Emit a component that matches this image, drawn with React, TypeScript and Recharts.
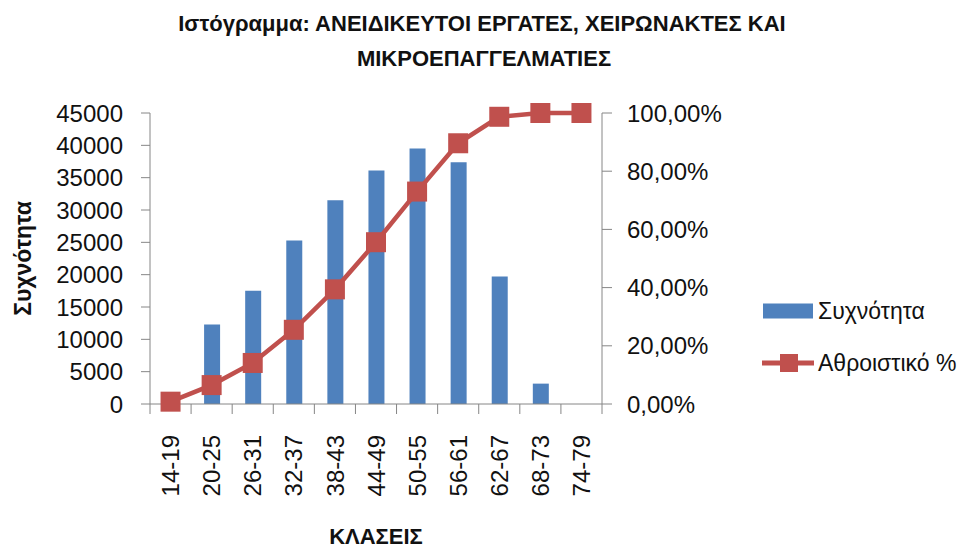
import React from 'react';
import { ComposedChart, Bar, Line, XAxis, YAxis, Legend } from 'recharts';

const CLASSES = ['14-19', '20-25', '26-31', '32-37', '38-43', '44-49', '50-55', '56-61', '62-67', '68-73', '74-79'];
const FREQUENCY = [1800, 12300, 17500, 25300, 31500, 36100, 39500, 37400, 19700, 3150, 0];
const CUMULATIVE = [0.008, 0.065, 0.141, 0.255, 0.394, 0.556, 0.73, 0.896, 0.987, 1, 1];
const LEFT_TICKS = [0, 5000, 10000, 15000, 20000, 25000, 30000, 35000, 40000, 45000];
const RIGHT_TICKS = [0, 0.2, 0.4, 0.6, 0.8, 1];
const SERIES_NAMES = ['Συχνότητα', 'Αθροιστικό %'];
const TITLE_LINES = ['Ιστόγραμμα: ΑΝΕΙΔΙΚΕΥΤΟΙ ΕΡΓΑΤΕΣ, ΧΕΙΡΩΝΑΚΤΕΣ ΚΑΙ', 'ΜΙΚΡΟΕΠΑΓΓΕΛΜΑΤΙΕΣ'];

const data = CLASSES.map((klasi, i) => ({ klasi, freq: FREQUENCY[i], cum: CUMULATIVE[i] }));

const FONT = '"Liberation Sans", Arial, sans-serif';
const BLUE = '#4F81BD';
const RED = '#C0504D';
const AXIS = '#868686';
const TEXT = '#111';
const LABEL_GAP = 31;
const TICK_LEN = 10;

const pct = (v: number) => (v * 100).toFixed(2).replace('.', ',') + '%';

// Excel puts the category tick marks between the classes, so draw them at the band edges
const ClassTick = (props: any) => {
  const { x, y, payload, width, visibleTicksCount, index } = props;
  const half = width / visibleTicksCount / 2;
  const y0 = y - LABEL_GAP;
  return (
    <g>
      <line x1={x - half} y1={y0} x2={x - half} y2={y0 + TICK_LEN} stroke={AXIS} />
      {index === visibleTicksCount - 1 && (
        <line x1={x + half} y1={y0} x2={x + half} y2={y0 + TICK_LEN} stroke={AXIS} />
      )}
      <text x={x} y={y} transform={`rotate(-90, ${x}, ${y})`} textAnchor="end" dy="0.36em"
        fontFamily={FONT} fontSize={24} fill={TEXT}>
        {payload.value}
      </text>
    </g>
  );
};

const SquareDot = (props: any) => {
  const { cx, cy, index } = props;
  return <rect key={`dot-${index}`} x={cx - 10} y={cy - 10} width={20} height={20} fill={RED} />;
};

const LegendBox = () => (
  <div style={{ fontFamily: FONT, fontSize: 23, color: TEXT }}>
    <div style={{ display: 'flex', alignItems: 'center', height: 26, marginBottom: 26 }}>
      <svg width={52} height={26}><rect x={1} y={5.5} width={50} height={15} fill={BLUE} /></svg>
      <span style={{ marginLeft: 4, whiteSpace: 'nowrap' }}>{SERIES_NAMES[0]}</span>
    </div>
    <div style={{ display: 'flex', alignItems: 'center', height: 26 }}>
      <svg width={52} height={26}>
        <line x1={0} y1={13} x2={52} y2={13} stroke={RED} strokeWidth={5} />
        <rect x={18} y={4} width={18} height={18} fill={RED} />
      </svg>
      <span style={{ marginLeft: 4, whiteSpace: 'nowrap' }}>{SERIES_NAMES[1]}</span>
    </div>
  </div>
);

export default function App() {
  return (
    <div style={{ position: 'absolute', left: 0, top: 0, background: '#fff' }}>
      <ComposedChart width={969} height={549} data={data} margin={{ top: 113, right: 0, bottom: 0, left: 0 }}>
        <text x={482} y={31} textAnchor="middle" fontFamily={FONT} fontSize={22} fontWeight="bold" fill={TEXT}>
          {TITLE_LINES[0]}
        </text>
        <text x={484} y={66} textAnchor="middle" fontFamily={FONT} fontSize={22} fontWeight="bold" fill={TEXT}>
          {TITLE_LINES[1]}
        </text>
        <XAxis xAxisId="cat" dataKey="klasi" height={145} interval={0} tickLine={false} tickSize={0} tickMargin={LABEL_GAP}
          axisLine={{ stroke: AXIS }} tick={<ClassTick />}
          label={{ value: 'ΚΛΑΣΕΙΣ', position: 'insideBottom', offset: 5, fontFamily: FONT, fontSize: 22, fontWeight: 'bold', fill: TEXT }} />
        <YAxis yAxisId="left" width={150} domain={[0, 45000]} ticks={LEFT_TICKS} interval={0}
          tickSize={9} tickMargin={18} axisLine={{ stroke: AXIS }} tickLine={{ stroke: AXIS }}
          tick={{ fontFamily: FONT, fontSize: 24, fill: TEXT }}
          label={{ value: 'Συχνότητα', angle: -90, position: 'insideLeft', offset: 23,
            style: { textAnchor: 'middle', fontFamily: FONT, fontSize: 23, fontWeight: 'bold', fill: TEXT } }} />
        <YAxis yAxisId="right" orientation="right" width={367} domain={[0, 1]} ticks={RIGHT_TICKS} interval={0}
          tickSize={10} tickMargin={15} axisLine={{ stroke: AXIS }} tickLine={{ stroke: AXIS }}
          tickFormatter={pct} tick={{ fontFamily: FONT, fontSize: 24, fill: TEXT }} />
        <Bar xAxisId="cat" yAxisId="left" dataKey="freq" name={SERIES_NAMES[0]} fill={BLUE} barSize={16} isAnimationActive={false} />
        <Line xAxisId="cat" yAxisId="right" dataKey="cum" name={SERIES_NAMES[1]} type="linear" stroke={RED} strokeWidth={4.5}
          dot={<SquareDot />} activeDot={false} isAnimationActive={false} />
        <Legend layout="vertical" align="center" verticalAlign="middle" content={<LegendBox />}
          wrapperStyle={{ left: 762, top: 298, width: 207, bottom: 'auto', right: 'auto' }} />
      </ComposedChart>
    </div>
  );
}
